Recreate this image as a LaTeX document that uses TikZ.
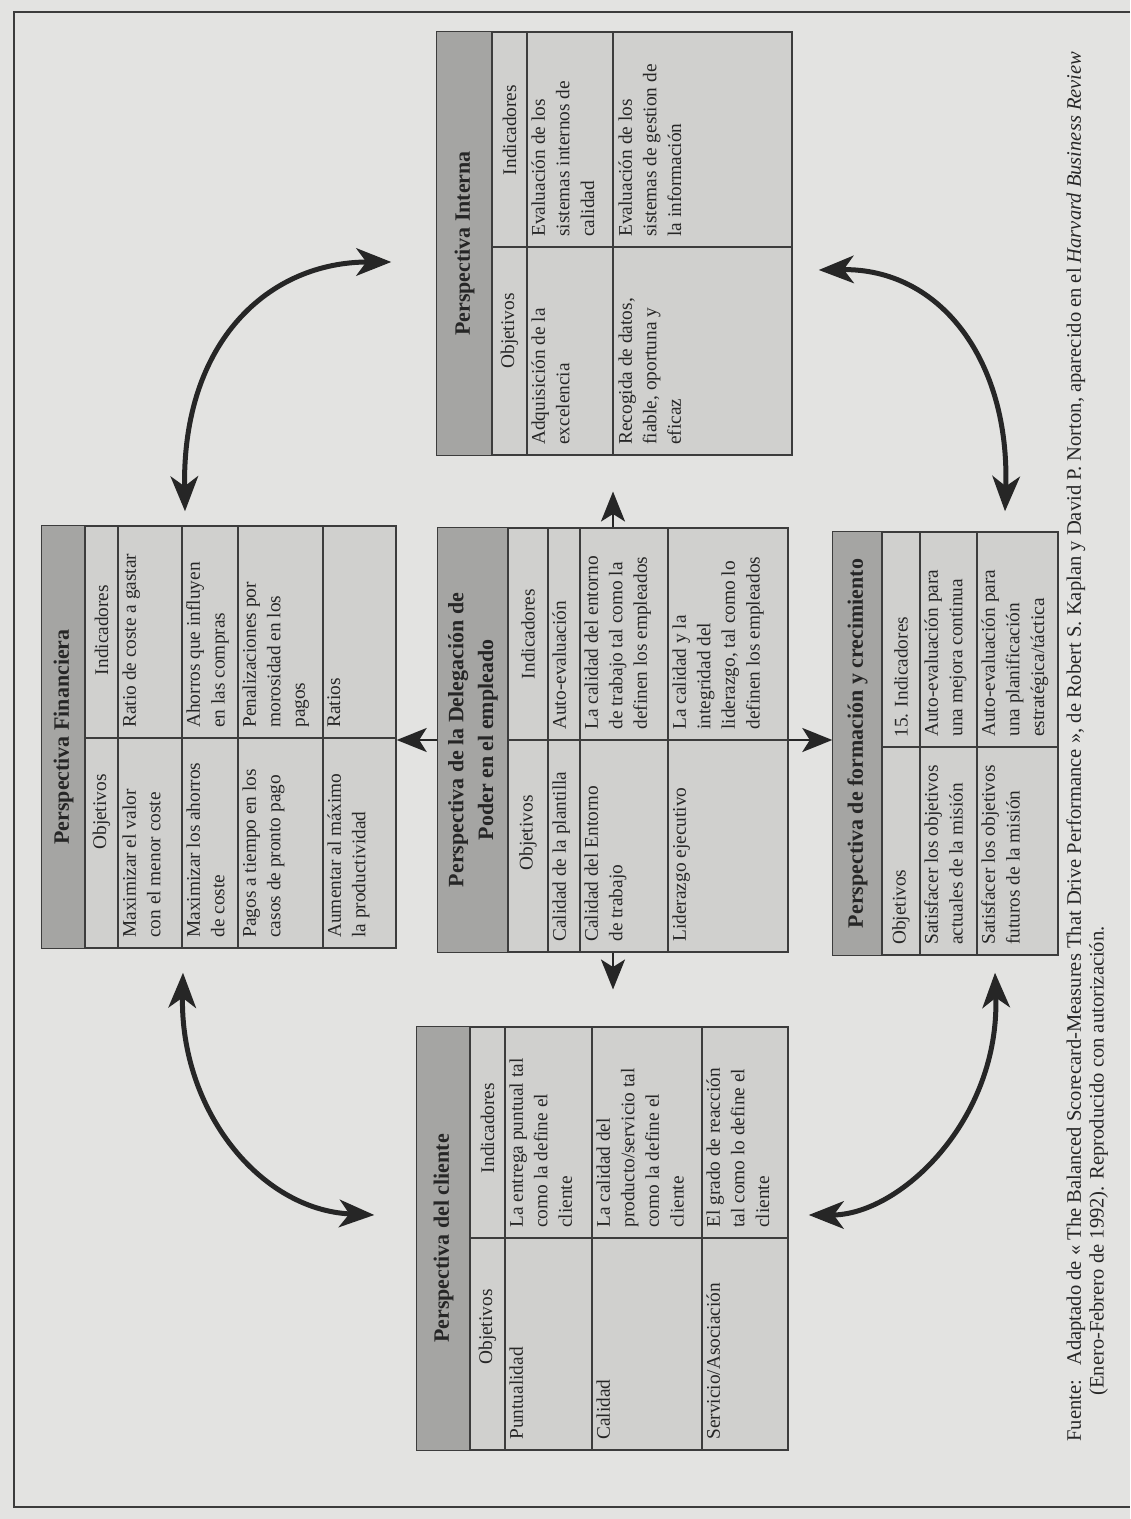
\documentclass[tikz,border=0pt]{standalone}
\usepackage{fontspec}
\setmainfont{Liberation Serif}
\usetikzlibrary{arrows.meta,calc}

\definecolor{paper}{HTML}{E3E3E1}
\definecolor{cellgray}{HTML}{D0D0CE}
\definecolor{bandgray}{HTML}{A5A5A3}
\definecolor{ink}{HTML}{262626}
\definecolor{rulegray}{HTML}{3C3C3C}

\tikzset{
  rule/.style={draw=rulegray, line width=0.8pt},
  tablebox/.style={rectangle, draw=rulegray, line width=0.8pt, fill=cellgray, inner sep=0pt},
  celltext/.style={rotate=90, anchor=north west, align=left, inner sep=0pt, text=ink,
    font=\fontsize{11}{14}\selectfont},
  headtext/.style={rotate=90, anchor=center, inner sep=0pt, text=ink,
    font=\fontsize{11}{14}\selectfont},
  titletext/.style={rotate=90, anchor=center, align=center, inner sep=0pt, text=ink,
    font=\bfseries\fontsize{12.5}{17}\selectfont},
  bigarrow/.style={draw=ink, line width=1mm,
    {Stealth[length=7mm,width=5.5mm,inset=2mm]}-{Stealth[length=7mm,width=5.5mm,inset=2mm]}},
  smallarrow/.style={draw=ink, line width=0.5mm, -{Stealth[length=6mm,width=4.8mm,inset=1.5mm]}},
  notetext/.style={rotate=90, anchor=north west, inner sep=0pt, text=ink,
    font=\fontsize{11.7}{12}\selectfont},
}

% #1 name, #2 left, #3 top, #4 right, #5 bottom, #6 title band edge, #7 header edge, #8 column divider
\newcommand{\bsctable}[8]{%
  \node[tablebox, minimum width={(#4-#2)*0.2mm}, minimum height={(#5-#3)*0.2mm}]
    (#1) at ({(#2+#4)/2},{(#3+#5)/2}) {};
  \fill[bandgray] (#2,#3) rectangle (#6,#5);
  \draw[rule] (#6,#3) -- (#6,#5) (#7,#3) -- (#7,#5) (#6,#8) -- (#4,#8);
  \draw[rule] (#1.north west) rectangle (#1.south east);
}

\begin{document}
\begin{tikzpicture}[x=0.2mm, y=-0.2mm]
\useasboundingbox (0,0) rectangle (1130,1519);
\fill[paper] (0,0) rectangle (1130,1519);
\draw[rulegray, line width=0.45mm] (1130,12) -- (14,12) -- (14,1507) -- (1130,1507);

% ---------- Perspectiva Financiera ----------
\bsctable{fin}{42}{526}{396}{948}{85}{118}{738}
\foreach \r in {182,238,323} \draw[rule] (\r,526) -- (\r,948);
\node[titletext] (finT) at (63.5,737) {Perspectiva Financiera};
\node[headtext] (finHO) at (101.5,812) {Objetivos};
\node[headtext] (finHI) at (101.5,630) {Indicadores};
\node[celltext] (finO1) at (122,938) {Maximizar el valor\\con el menor coste};
\node[celltext] (finI1) at (122,728) {Ratio de coste a gastar};
\node[celltext] (finO2) at (186,938) {Maximizar los ahorros\\de coste};
\node[celltext] (finI2) at (186,728) {Ahorros que influyen\\en las compras};
\node[celltext] (finO3) at (242,938) {Pagos a tiempo en los\\casos de pronto pago};
\node[celltext] (finI3) at (242,728) {Penalizaciones por\\morosidad en los\\pagos};
\node[celltext] (finO4) at (327,938) {Aumentar al máximo\\la productividad};
\node[celltext] (finI4) at (327,728) {Ratios};

% ---------- Delegación de poder ----------
\bsctable{del}{438}{528}{788}{952}{508}{548}{740}
\foreach \r in {580,668} \draw[rule] (\r,528) -- (\r,952);
\node[titletext] (delT) at (473,740) {Perspectiva de la Delegación de\\Poder en el empleado};
\node[headtext] (delHO) at (528,833) {Objetivos};
\node[headtext] (delHI) at (528,634) {Indicadores};
\node[celltext] (delO1) at (552,942) {Calidad de la plantilla};
\node[celltext] (delI1) at (552,730) {Auto-evaluación};
\node[celltext] (delO2) at (584,942) {Calidad del Entorno\\de trabajo};
\node[celltext] (delI2) at (584,730) {La calidad del entorno\\de trabajo tal como la\\definen los empleados};
\node[celltext] (delO3) at (672,942) {Liderazgo ejecutivo};
\node[celltext] (delI3) at (672,730) {La calidad y la\\integridad del\\liderazgo, tal como lo\\definen los empleados};

% ---------- Formación y crecimiento ----------
\bsctable{form}{833}{532}{1058}{955}{882}{920}{747}
\draw[rule] (977,532) -- (977,955);
\node[titletext] (formT) at (857.5,743.5) {Perspectiva de formación y crecimiento};
\node[headtext, anchor=west] (formHO) at (901,945) {Objetivos};
\node[headtext, anchor=west] (formHI) at (901,738) {15. Indicadores};
\node[celltext] (formO1) at (924,945) {Satisfacer los objetivos\\actuales de la misión};
\node[celltext] (formI1) at (924,737) {Auto-evaluación para\\una mejora continua};
\node[celltext] (formO2) at (981,945) {Satisfacer los objetivos\\futuros de la misión};
\node[celltext] (formI2) at (981,737) {Auto-evaluación para\\una planificación\\estratégica/táctica};

% ---------- Perspectiva Interna ----------
\bsctable{int}{437}{32}{792}{455}{492}{527}{247}
\draw[rule] (613,32) -- (613,455);
\node[titletext] (intT) at (464.5,243.5) {Perspectiva Interna};
\node[headtext] (intHO) at (509.5,331) {Objetivos};
\node[headtext] (intHI) at (509.5,130) {Indicadores};
\node[celltext] (intO1) at (531,445) {Adquisición de la\\excelencia};
\node[celltext] (intI1) at (531,237) {Evaluación de los\\sistemas internos de\\calidad};
\node[celltext] (intO2) at (618,445) {Recogida de datos,\\fiable, oportuna y\\eficaz};
\node[celltext] (intI2) at (618,237) {Evaluación de los\\sistemas de gestion de\\la información};

% ---------- Perspectiva del cliente ----------
\bsctable{cli}{417}{1027}{788}{1450}{470}{505}{1238}
\foreach \r in {592,702} \draw[rule] (\r,1027) -- (\r,1450);
\node[titletext] (cliT) at (443.5,1238.5) {Perspectiva del cliente};
\node[headtext] (cliHO) at (487.5,1327) {Objetivos};
\node[headtext] (cliHI) at (487.5,1128) {Indicadores};
\node[celltext] (cliO1) at (509,1440) {Puntualidad};
\node[celltext] (cliI1) at (509,1228) {La entrega puntual tal\\como la define el\\cliente};
\node[celltext] (cliO2) at (596,1440) {Calidad};
\node[celltext] (cliI2) at (596,1228) {La calidad del\\producto/servicio tal\\como la define el\\cliente};
\node[celltext] (cliO3) at (706,1440) {Servicio/Asociación};
\node[celltext] (cliI3) at (706,1228) {El grado de reacción\\tal como lo define el\\cliente};

% ---------- links from the central table ----------
\coordinate (upTip) at ($(del.north)!0.5!(int.south)$);
\coordinate (downTip) at ($(del.south)!0.5!(cli.north)$);
\draw[smallarrow] (del.west) -- (del.west -| fin.east);
\draw[smallarrow] (del.east) -- (del.east -| form.west);
\draw[smallarrow] (del.north) -- (del.north |- upTip);
\draw[smallarrow] (del.south) -- (del.south |- downTip);

% ---------- curved links around the outer tables ----------
\draw[bigarrow] ([xshift=-6.8mm,yshift=2.8mm]fin.north)
  .. controls (182,340) and (270,262) .. ([xshift=-9mm,yshift=-3.7mm]int.west);
\draw[bigarrow] ([xshift=5.2mm,yshift=-5.3mm]int.east)
  .. controls (940,268) and (1010,360) .. ([xshift=11.9mm,yshift=4mm]form.north);
\draw[bigarrow] ([xshift=9.9mm,yshift=-3.4mm]form.south)
  .. controls (1000,1120) and (900,1215) .. ([xshift=4mm,yshift=4.7mm]cli.east);
\draw[bigarrow] ([xshift=-8.4mm,yshift=4.7mm]cli.west)
  .. controls (260,1210) and (180,1110) .. ([xshift=-7.2mm,yshift=-4.8mm]fin.south);

% ---------- source note ----------
\node[notetext] (fn1) at (1066,1442) {Fuente:\hspace{0.7em}Adaptado de « The Balanced Scorecard-Measures That Drive Performance », de Robert S. Kaplan y David P. Norton, aparecido en el \textit{Harvard Business Review}};
\node[notetext] (fn2) at (1089,1396) {(Enero-Febrero de 1992). Reproducido con autorización.};
\end{tikzpicture}
\end{document}
